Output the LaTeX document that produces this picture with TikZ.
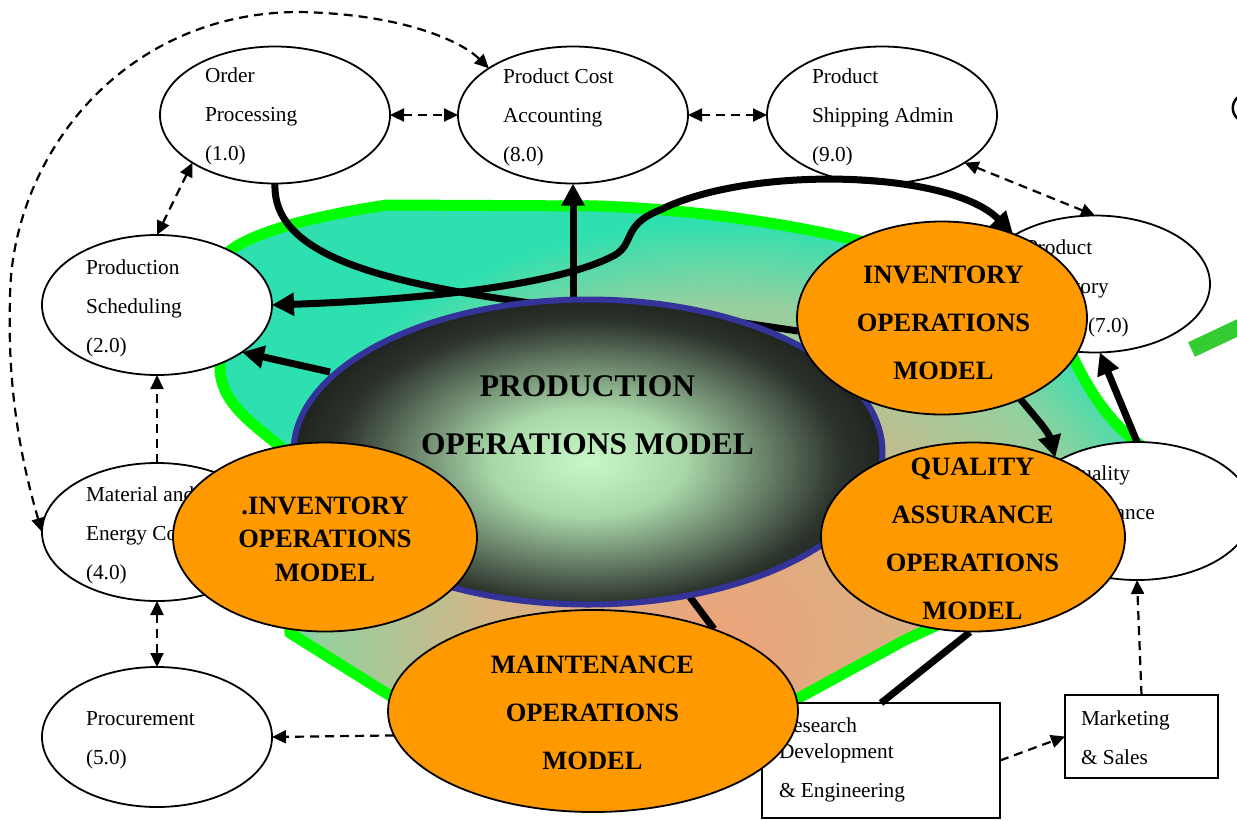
\documentclass[tikz,border=0pt]{standalone}
\usepackage{fontspec}
\setmainfont{Liberation Serif}
\usetikzlibrary{shapes.geometric,arrows.meta}
\definecolor{salm}{HTML}{EDA37A}
\definecolor{tanc}{HTML}{D6B486}
\definecolor{lgrn}{HTML}{96D09E}
\definecolor{tealc}{HTML}{2EE0B0}
\definecolor{grn}{HTML}{00FF00}
\definecolor{barg}{HTML}{33CC33}
\definecolor{orng}{HTML}{FF9900}
\definecolor{pomblue}{HTML}{333399}
\definecolor{pcz}{HTML}{C8F8C8}
\definecolor{pca}{HTML}{A8D8A8}
\definecolor{pcb}{HTML}{5E725E}
\definecolor{pcc}{HTML}{2C342C}
\definecolor{pcd}{HTML}{1E221E}
\pgfdeclareradialshading{blobsh}{\pgfpoint{0bp}{0bp}}{color(0bp)=(salm); color(5.6bp)=(tanc); color(10bp)=(lgrn); color(12.5bp)=(tealc); color(50bp)=(tealc)}
\pgfdeclareradialshading{pomsh}{\pgfpoint{0bp}{0bp}}{color(0bp)=(pcz); color(8bp)=(pca); color(16bp)=(pcb); color(21bp)=(pcc); color(25bp)=(pcd); color(50bp)=(pcd)}
\newcommand\tl[1]{\begin{tabular}[t]{@{}l@{}}#1\end{tabular}}
\newcommand\tc[1]{\begin{tabular}[t]{@{}c@{}}#1\end{tabular}}
\def\blobpath{(220,262) .. controls (232,238) and (300,218) .. (387,205) -- (600,206) .. controls (700,210) and (800,225) .. (880,246) -- (1060,330) .. controls (1085,385) and (1105,420) .. (1143,447) -- (1120,540) -- (905,640) -- (795,700) -- (600,712) -- (397,700) -- (290,633) -- (284,450) .. controls (255,425) and (222,405) .. (220,370) -- cycle}
\begin{document}
\begin{tikzpicture}[x=1pt,y=-1pt,
  every node/.style={inner sep=0pt, outer sep=0pt},
  wel/.style={ellipse, draw, line width=1.8pt, fill=white, minimum width=230pt, minimum height=137pt},
  box/.style={rectangle, draw, line width=2.4pt, fill=white},
  oel/.style={ellipse, draw, line width=1.8pt, fill=orng},
  lbl/.style={font=\fontsize{21.3}{39}\selectfont, anchor=base west},
  blbl/.style={font=\fontsize{26.5}{48}\selectfont\bfseries, anchor=base},
  thk/.style={line width=7pt},
  thka/.style={thk, -{Triangle[length=22pt,width=22pt]}},
  thkb/.style={thk, {Triangle[length=22pt,width=22pt]}-{Triangle[length=22pt,width=22pt]}},
  dsh/.style={line width=2.2pt, dash pattern=on 9pt off 6pt},
  dsha/.style={dsh, -{Triangle[length=14pt,width=13pt]}},
  dshb/.style={dsh, {Triangle[length=14pt,width=13pt]}-{Triangle[length=14pt,width=13pt]}}]
\fill[white] (0,0) rectangle (1237,820);
\useasboundingbox (0,0) rectangle (1237,820);
% green blob
\begin{scope}
\clip \blobpath;
\shade[shading=blobsh] (720,640) ellipse [x radius=1000, y radius=840];
\end{scope}
\draw[grn, line width=11pt, line join=round] \blobpath;
% white function ellipses
\node[wel] (op) at (275,115) {};
\node[wel] (pcac) at (573,115) {};
\node[wel] (psa) at (882,115) {};
\node[wel, minimum height=140pt] (ps) at (157,305) {};
\node[wel] (pic) at (1095,284) {};
\node[wel, minimum height=138pt] (qa) at (1137,511) {};
\node[wel, minimum height=138pt] (mec) at (157,532) {};
\node[wel, minimum height=140pt] (pr) at (157,737) {};
\node[box, minimum width=238pt, minimum height=115pt] (rd) at (881,760.5) {};
\node[box, minimum width=153pt, minimum height=83pt] (mk) at (1141.5,736.5) {};
\node[lbl] (opt) at (205,82) {\tl{Order\\Processing\\(1.0)}};
\node[lbl] (pcat) at (503,83) {\tl{Product Cost\\Accounting\\(8.0)}};
\node[lbl] (psat) at (812,83) {\tl{Product\\Shipping Admin\\(9.0)}};
\node[lbl] (pst) at (86,274) {\tl{Production\\Scheduling\\(2.0)}};
\node[lbl] (pict) at (1026,254) {\tl{Product\\Inventory}};
\node[lbl] (picn) at (1088,332) {(7.0)};
\node[lbl] (qat) at (1066,480) {\tl{Quality\\Assurance}};
\node[lbl] (mect) at (86,501) {\tl{Material and\\Energy Control\\(4.0)}};
\node[lbl] (prt) at (86,725) {\tl{Procurement\\(5.0)}};
\node[lbl] (rdt) at (779,732) {\tl{Research\\[-13pt]Development\\\& Engineering}};
\node[lbl] (mkt) at (1081,725) {\tl{Marketing\\\& Sales}};
% thick connectors behind the models
\draw[thka] (pcac.south |- 0,297) -- (pcac.south);
\draw[thk] (op.south) .. controls (272,255) and (380,282) .. (530,303) -- (710,318) -- (798,331);
\draw[thkb] (ps.east) .. controls (420,300) and (560,285) .. (615,255) .. controls (635,243) and (622,225) .. (660,210) .. controls (750,165) and (950,170) .. (1013,234);
\draw[thka] (330,372) -- (ps.-29);
\draw[thk] (690,597) -- (714,629);
\draw[thk] (970,632) -- (rd.north);
\draw[thka] (qa.north) -- (pic.-86);
% production operations model
\begin{scope}
\clip (588,452) ellipse [x radius=294, y radius=152];
\shade[shading=pomsh] (588,462) ellipse [x radius=300, y radius=168];
\end{scope}
\node[ellipse, minimum width=589pt, minimum height=305pt, draw=pomblue, line width=6pt] (pom) at (588,452) {};
\node[font=\fontsize{31.5}{58}\selectfont\bfseries, anchor=base] (pomt) at (587.5,396) {\tc{PRODUCTION\\OPERATIONS MODEL}};
% orange models
\node[oel, minimum width=290pt, minimum height=193pt] (ior) at (942,318) {};
\node[oel, minimum width=304pt, minimum height=189pt] (qao) at (973,537) {};
\node[oel, minimum width=304pt, minimum height=189pt] (iol) at (325,537) {};
\node[oel, minimum width=410pt, minimum height=202pt] (mo) at (593,711) {};
\node[blbl] (iort) at (943.5,283) {\tc{INVENTORY\\OPERATIONS\\MODEL}};
\node[blbl] (qaot) at (972.5,475) {\tc{QUALITY\\ASSURANCE\\OPERATIONS\\MODEL}};
\node[blbl, font=\fontsize{26.5}{33.5}\selectfont\bfseries] (iolt) at (325,514) {\tc{.INVENTORY\\OPERATIONS\\MODEL}};
\node[blbl] (mot) at (592.5,673) {\tc{MAINTENANCE\\OPERATIONS\\MODEL}};
\draw[thka] (ior.-46) to[out=-50, in=105] (qao.44);
% dashed connectors
\draw[dshb] (op.east) -- (pcac.west);
\draw[dshb] (pcac.east) -- (psa.west);
\draw[dshb] (ps.north) -- (op.210);
\draw[dsha] (mec.north) -- (ps.south);
\draw[dshb] (mec.south) -- (pr.north);
\draw[dsha] (mo.187) -- (pr.east);
\draw[dshb] (mec.west) .. controls (15,440) and (8,370) .. (10,300) .. controls (10,160) and (120,12) .. (300,12) .. controls (400,14) and (460,40) .. (pcac.151);
\draw[dshb] (psa.-30) -- (pic.north);
\draw[dsha] (mk.north) -- (qa.south);
\draw[dsha] (rd.east) -- (mk.west);
% fragments at the right edge
\draw[barg, line width=16pt] (1191.5,349.5) -- (1260,317.3);
\draw[line width=2.5pt] (1238,97) .. controls (1231,103) and (1231,113) .. (1238,119);
\end{tikzpicture}
\end{document}
